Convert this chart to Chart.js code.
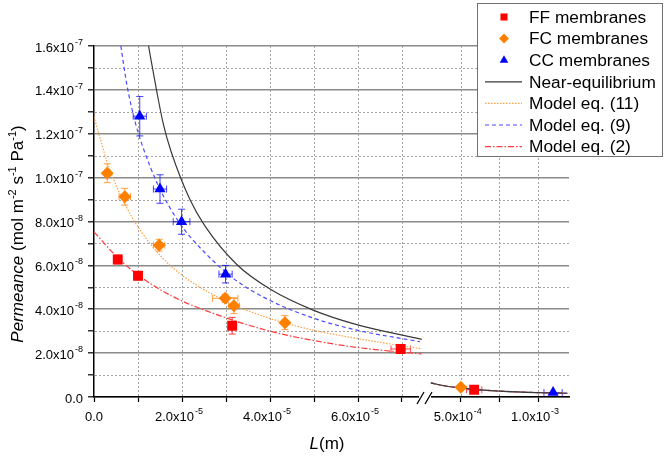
<!DOCTYPE html>
<html>
<head>
<meta charset="utf-8">
<title>Permeance vs L</title>
<script src="https://cdn.jsdelivr.net/npm/chart.js@4.4.1/dist/chart.umd.min.js"></script>
<style>
    html, body { margin: 0; padding: 0; background: #fff; }
    canvas { display: block; }
</style>
</head>
<body>
<canvas id="permChart" width="666" height="456"></canvas>
<script>
// values (L in m, permeance in mol m-2 s-1 Pa-1)

// measured points, thin membranes (left part of the broken axis)
const ffL = [5.4e-6, 1.0e-5, 3.14e-5, 6.97e-5];
const ffP = [6.27e-8, 5.53e-8, 3.25e-8, 2.19e-8];
const ffErrL = [0.5e-6, 0.8e-6, 0.5e-6, 2.2e-6];
const ffErrP = [2.0e-9, 1.9e-9, 3.8e-9, 0.8e-9];

const fcL = [3.0e-6, 7.0e-6, 1.48e-5, 2.98e-5, 3.18e-5, 4.34e-5];
const fcP = [1.02e-7, 9.13e-8, 6.92e-8, 4.5e-8, 4.16e-8, 3.39e-8];
const fcErrL = [0.6e-6, 1.3e-6, 1.3e-6, 2.9e-6, 1.25e-6, 0.6e-6];
const fcErrP = [4.3e-9, 3.8e-9, 2.7e-9, 1.8e-9, 3.6e-9, 3.2e-9];

const ccL = [1.04e-5, 1.5e-5, 1.99e-5, 2.99e-5];
const ccP = [1.28e-7, 9.48e-8, 7.99e-8, 5.6e-8];
const ccErrL = [1.5e-6, 1.5e-6, 1.9e-6, 1.5e-6];
const ccErrP = [9.0e-9, 6.5e-9, 5.7e-9, 4.0e-9];

// measured points, thick membranes (right part)
const ffThickL = [5.86e-4];
const ffThickP = [3.3e-9];
const ffThickErrL = [5.0e-5];
const fcThickL = [5.0e-4];
const fcThickP = [4.4e-9];
const fcThickErrL = [1.5e-5];
const ccThickL = [1.097e-3];
const ccThickP = [2.0e-9];
const ccThickErrL = [5.9e-5];

// model curves, left part
const nearEqL = [1.24e-5, 1.42e-5, 1.58e-5, 1.75e-5, 2.18e-5, 2.52e-5, 3.24e-5, 4.0e-5, 4.98e-5, 5.97e-5, 7.45e-5];
const nearEqP = [1.6e-7, 1.4e-7, 1.24e-7, 1.12e-7, 9.0e-8, 7.8e-8, 6.05e-8, 4.92e-8, 3.96e-8, 3.3e-8, 2.63e-8];

const model11L = [0, 1.8e-6, 3.0e-6, 4.5e-6, 7.0e-6, 1.05e-5, 1.73e-5, 2.94e-5, 4.0e-5, 4.98e-5, 5.97e-5, 7.45e-5];
const model11P = [1.277e-7, 1.15e-7, 1.07e-7, 9.9e-8, 8.8e-8, 7.6e-8, 6.0e-8, 4.42e-8, 3.58e-8, 3.05e-8, 2.67e-8, 2.19e-8];

const model9L = [6.1e-6, 7.5e-6, 9.4e-6, 1.11e-5, 1.47e-5, 1.92e-5, 2.23e-5, 3.17e-5, 4.0e-5, 4.98e-5, 5.97e-5, 7.41e-5];
const model9P = [1.6e-7, 1.42e-7, 1.25e-7, 1.14e-7, 9.6e-8, 8.0e-8, 7.2e-8, 5.4e-8, 4.4e-8, 3.6e-8, 3.05e-8, 2.52e-8];

const model2L = [0, 5.2e-6, 1.0e-5, 1.8e-5, 2.94e-5, 4.0e-5, 4.98e-5, 5.97e-5, 7.45e-5];
const model2P = [7.53e-8, 6.39e-8, 5.56e-8, 4.57e-8, 3.65e-8, 3.0e-8, 2.58e-8, 2.26e-8, 1.96e-8];

// model curves, right part (all four lie on top of each other)
const thickCurveL = [3.06e-4, 4.0e-4, 5.0e-4, 6.0e-4, 7.5e-4, 1.0e-3, 1.19e-3];
const thickCurveP = [6.4e-9, 5.0e-9, 4.1e-9, 3.4e-9, 2.7e-9, 2.0e-9, 1.7e-9];

// ticks
const yTickValues = [0, 2e-8, 4e-8, 6e-8, 8e-8, 1.0e-7, 1.2e-7, 1.4e-7, 1.6e-7];
const yTickLabels = ['0.0', '2.0x10^-8', '4.0x10^-8', '6.0x10^-8', '8.0x10^-8', '1.0x10^-7', '1.2x10^-7', '1.4x10^-7', '1.6x10^-7'];
const yMinorValues = [1e-8, 3e-8, 5e-8, 7e-8, 9e-8, 1.1e-7, 1.3e-7, 1.5e-7];
const xLeftTickValues = [0, 2e-5, 4e-5, 6e-5];
const xLeftTickLabels = ['0.0', '2.0x10^-5', '4.0x10^-5', '6.0x10^-5'];
const xLeftMinorValues = [1e-5, 3e-5, 5e-5, 7e-5];
const xRightTickValues = [5e-4, 1e-3];
const xRightTickLabels = ['5.0x10^-4', '1.0x10^-3'];
const xRightMinorValues = [7.5e-4];

const FONT = '"Liberation Sans", Arial, sans-serif';
const RED = '#ff0000', ORANGE = '#ff8000', BLUE = '#0000ff';

function pts(xs, ys) {
    return xs.map((x, i) => ({ x: x, y: ys[i] }));
}

function markerSet(label, xs, ys, errX, errY, style, color, radius, axis, inLegend) {
    return {
        label: label,
        data: pts(xs, ys),
        xAxisID: axis,
        showLine: false,
        pointStyle: style,
        pointRadius: radius,
        pointHoverRadius: radius,
        backgroundColor: color,
        borderColor: color,
        pointBorderWidth: 0,
        errX: errX,
        errY: errY,
        errColor: color,
        inLegend: inLegend
    };
}

function curveSet(label, xs, ys, color, dash, axis, inLegend) {
    return {
        label: label,
        data: pts(xs, ys),
        xAxisID: axis,
        showLine: true,
        pointRadius: 0,
        pointHoverRadius: 0,
        borderColor: color,
        backgroundColor: color,
        borderWidth: 1.2,
        borderDash: dash,
        cubicInterpolationMode: 'monotone',
        inLegend: inLegend
    };
}

const datasets = [
    markerSet('FF membranes', ffL, ffP, ffErrL, ffErrP, 'rect', RED, 7, 'x', true),
    markerSet('FC membranes', fcL, fcP, fcErrL, fcErrP, 'rectRot', ORANGE, 6.5, 'x', true),
    markerSet('CC membranes', ccL, ccP, ccErrL, ccErrP, 'triangle', BLUE, 6.5, 'x', true),
    curveSet('Near-equilibrium', nearEqL, nearEqP, '#3a3a3a', [], 'x', true),
    curveSet('Model eq. (11)', model11L, model11P, '#ffa040', [1.5, 1.5], 'x', true),
    curveSet('Model eq. (9)', model9L, model9P, '#4a4aff', [4, 3], 'x', true),
    curveSet('Model eq. (2)', model2L, model2P, '#ff3a3a', [6, 2, 1.5, 2], 'x', true),
    markerSet('FF thick', ffThickL, ffThickP, ffThickErrL, [0], 'rect', RED, 7, 'x2', false),
    markerSet('FC thick', fcThickL, fcThickP, fcThickErrL, [0], 'rectRot', ORANGE, 6.5, 'x2', false),
    markerSet('CC thick', ccThickL, ccThickP, ccThickErrL, [0], 'triangle', BLUE, 6.5, 'x2', false),
    curveSet('Near-eq thick', thickCurveL, thickCurveP, '#3a3a3a', [], 'x2', false),
    curveSet('Model 11 thick', thickCurveL, thickCurveP, '#ffa040', [1.5, 1.5], 'x2', false),
    curveSet('Model 9 thick', thickCurveL, thickCurveP, '#4a4aff', [4, 3], 'x2', false),
    curveSet('Model 2 thick', thickCurveL, thickCurveP, '#ff3a3a', [6, 2, 1.5, 2], 'x2', false)
];

// label with superscript exponent, e.g. '2.0x10^-8'
function drawSupLabel(ctx, text, x, y, align, size) {
    const parts = text.split('^');
    const baseFont = size + 'px ' + FONT;
    const supFont = Math.round(size * 0.68) + 'px ' + FONT;
    ctx.font = baseFont;
    const wBase = ctx.measureText(parts[0]).width;
    ctx.font = supFont;
    const wSup = parts[1] ? ctx.measureText(parts[1]).width + 1 : 0;
    const total = wBase + wSup;
    let left = x;
    if (align === 'right') left = x - total;
    if (align === 'center') left = x - total / 2;
    ctx.textAlign = 'left';
    ctx.textBaseline = 'middle';
    ctx.font = baseFont;
    ctx.fillText(parts[0], left, y);
    if (parts[1]) {
        ctx.font = supFont;
        ctx.fillText(parts[1], left + wBase + 1, y - size * 0.42);
    }
}

function isMinor(list, value) {
    return list.some(v => Math.abs(v - value) < 1e-12);
}

// dotted grid lines and error bars, both under the markers
const underlayPlugin = {
    id: 'underlay',
    beforeDatasetsDraw(chart) {
        const ctx = chart.ctx;
        const area = chart.chartArea;
        const ys = chart.scales.y;

        ctx.save();
        ctx.strokeStyle = '#a4a4a4';
        ctx.lineWidth = 1;
        ctx.setLineDash([2, 2]);
        ctx.beginPath();
        yMinorValues.forEach(v => {
            const py = Math.round(ys.getPixelForValue(v)) + 0.5;
            ctx.moveTo(area.left + 1, py);
            ctx.lineTo(area.right, py);
        });
        const vx = [];
        xLeftTickValues.concat(xLeftMinorValues).forEach(v => { if (v > 0) vx.push(chart.scales.x.getPixelForValue(v)); });
        xRightTickValues.concat(xRightMinorValues).forEach(v => vx.push(chart.scales.x2.getPixelForValue(v)));
        vx.forEach(p => {
            const px = Math.round(p) + 0.5;
            ctx.moveTo(px, area.top);
            ctx.lineTo(px, area.bottom - 1);
        });
        ctx.stroke();
        ctx.restore();

        chart.data.datasets.forEach(ds => {
            if (!ds.errX) return;
            const xs = chart.scales[ds.xAxisID];
            ctx.save();
            ctx.strokeStyle = ds.errColor;
            ctx.globalAlpha = 0.75;
            ctx.lineWidth = 1;
            ds.data.forEach((p, i) => {
                const px = xs.getPixelForValue(p.x);
                const py = ys.getPixelForValue(p.y);
                const ex = ds.errX[i] || 0;
                const ey = (ds.errY && ds.errY[i]) || 0;
                ctx.beginPath();
                if (ey) {
                    const y1 = ys.getPixelForValue(p.y - ey);
                    const y2 = ys.getPixelForValue(p.y + ey);
                    ctx.moveTo(px, y1); ctx.lineTo(px, y2);
                    ctx.moveTo(px - 3.5, y1); ctx.lineTo(px + 3.5, y1);
                    ctx.moveTo(px - 3.5, y2); ctx.lineTo(px + 3.5, y2);
                }
                if (ex) {
                    const x1 = xs.getPixelForValue(p.x - ex);
                    const x2 = xs.getPixelForValue(p.x + ex);
                    ctx.moveTo(x1, py); ctx.lineTo(x2, py);
                    ctx.moveTo(x1, py - 3.5); ctx.lineTo(x1, py + 3.5);
                    ctx.moveTo(x2, py - 3.5); ctx.lineTo(x2, py + 3.5);
                }
                ctx.stroke();
            });
            ctx.restore();
        });
    }
};

function drawMarker(ctx, style, x, y, r, color) {
    ctx.fillStyle = color;
    ctx.beginPath();
    if (style === 'rect') {
        const s = r * Math.SQRT1_2;
        ctx.rect(x - s, y - s, 2 * s, 2 * s);
    } else if (style === 'rectRot') {
        ctx.moveTo(x, y - r); ctx.lineTo(x + r, y); ctx.lineTo(x, y + r); ctx.lineTo(x - r, y);
        ctx.closePath();
    } else {
        ctx.moveTo(x, y - r);
        ctx.lineTo(x + r * 0.866, y + r * 0.5);
        ctx.lineTo(x - r * 0.866, y + r * 0.5);
        ctx.closePath();
    }
    ctx.fill();
}

// tick labels, axis titles, axis break and legend
const decorPlugin = {
    id: 'decor',
    afterDraw(chart) {
        const ctx = chart.ctx;
        const area = chart.chartArea;
        const y = chart.scales.y, x = chart.scales.x, x2 = chart.scales.x2;
        ctx.save();
        ctx.fillStyle = '#000';

        yTickValues.forEach((v, i) => drawSupLabel(ctx, yTickLabels[i], 83, y.getPixelForValue(v) + 2, 'right', 13));
        xLeftTickValues.forEach((v, i) => drawSupLabel(ctx, xLeftTickLabels[i], x.getPixelForValue(v) - (i ? 3 : 0), area.bottom + 20, 'center', 13));
        xRightTickValues.forEach((v, i) => drawSupLabel(ctx, xRightTickLabels[i], x2.getPixelForValue(v) - 3, area.bottom + 20, 'center', 13));

        // x title: L(m)
        ctx.textBaseline = 'alphabetic';
        ctx.textAlign = 'left';
        ctx.font = 'italic 17px ' + FONT;
        const wL = ctx.measureText('L').width;
        ctx.font = '17px ' + FONT;
        const wRest = ctx.measureText('(m)').width;
        const tx = 327 - (wL + wRest) / 2;
        ctx.font = 'italic 17px ' + FONT;
        ctx.fillText('L', tx, 449);
        ctx.font = '17px ' + FONT;
        ctx.fillText('(m)', tx + wL, 449);

        // y title: Permeance (mol m-2 s-1 Pa-1)
        const parts = [
            ['Permeance', 'italic 17px', 0],
            [' (mol m', '17px', 0], ['-2', '11px', 1],
            [' s', '17px', 0], ['-1', '11px', 1],
            [' Pa', '17px', 0], ['-1', '11px', 1],
            [')', '17px', 0]
        ];
        let total = 0;
        parts.forEach(p => { ctx.font = p[1] + ' ' + FONT; p.push(ctx.measureText(p[0]).width); total += p[3]; });
        ctx.translate(23, 234);
        ctx.rotate(-Math.PI / 2);
        let pos = -total / 2;
        parts.forEach(p => {
            ctx.font = p[1] + ' ' + FONT;
            ctx.fillText(p[0], pos, p[2] ? -7 : 0);
            pos += p[3];
        });
        ctx.setTransform(1, 0, 0, 1, 0, 0);

        // axis break marks
        const by = area.bottom;
        ctx.fillStyle = '#fff';
        ctx.fillRect(419, by - 3, 12, 6);
        ctx.strokeStyle = '#000';
        ctx.lineWidth = 1.3;
        ctx.beginPath();
        ctx.moveTo(417, by + 7); ctx.lineTo(424, by - 5);
        ctx.moveTo(425, by + 7); ctx.lineTo(432, by - 5);
        ctx.stroke();

        // legend box
        ctx.fillStyle = '#fff';
        ctx.fillRect(477, 3, 186, 154);
        ctx.strokeStyle = '#707070';
        ctx.lineWidth = 1;
        ctx.strokeRect(477.5, 3.5, 185, 153);
        const items = chart.data.datasets.filter(ds => ds.inLegend);
        items.forEach((ds, i) => {
            const ry = 17 + i * 21.6;
            if (ds.showLine) {
                ctx.strokeStyle = ds.borderColor;
                ctx.lineWidth = 1.2;
                ctx.setLineDash(ds.borderDash);
                ctx.beginPath();
                ctx.moveTo(485, ry); ctx.lineTo(522, ry);
                ctx.stroke();
                ctx.setLineDash([]);
            } else {
                drawMarker(ctx, ds.pointStyle, 504, ry, 5, ds.backgroundColor);
            }
            ctx.fillStyle = '#000';
            ctx.font = '17.3px ' + FONT;
            ctx.textAlign = 'left';
            ctx.textBaseline = 'middle';
            ctx.fillText(ds.label, 529, ry + 1);
        });
        ctx.restore();
    }
};

function xScale(min, max, weight, major, minor) {
    return {
        type: 'linear',
        position: 'bottom',
        stack: 'L',
        stackWeight: weight,
        min: min,
        max: max,
        afterBuildTicks: s => { s.ticks = major.concat(minor).sort((a, b) => a - b).map(v => ({ value: v })); },
        afterFit: s => { s.height = 59; },
        ticks: { display: false, autoSkip: false },
        grid: {
            drawOnChartArea: false,
            drawTicks: true,
            tickLength: 5,
            tickColor: '#000',
            tickWidth: 1.2
        },
        border: { display: true, color: '#000', width: 1.5 }
    };
}

new Chart(document.getElementById('permChart'), {
    type: 'scatter',
    data: { datasets: datasets },
    options: {
        responsive: false,
        animation: false,
        events: [],
        layout: { padding: { left: 0, right: 97, top: 46, bottom: 0 } },
        plugins: { legend: { display: false }, tooltip: { enabled: false } },
        scales: {
            x: xScale(0, 7.6e-5, 334.4, xLeftTickValues, xLeftMinorValues),
            x2: xScale(2.9e-4, 1.2e-3, 140.6, xRightTickValues, xRightMinorValues),
            y: {
                type: 'linear',
                position: 'left',
                min: 0,
                max: 1.6e-7,
                afterBuildTicks: s => { s.ticks = yTickValues.concat(yMinorValues).sort((a, b) => a - b).map(v => ({ value: v })); },
                afterFit: s => { s.width = 94; },
                ticks: { display: false, autoSkip: false },
                grid: {
                    // minor lines are dotted and drawn by the underlay plugin
                    color: ctx => ctx.tick && isMinor(yMinorValues, ctx.tick.value) ? 'rgba(0,0,0,0)' : '#8a8a8a',
                    lineWidth: 1.6,
                    drawTicks: true,
                    tickLength: 6,
                    tickColor: '#000',
                    tickWidth: 1.2
                },
                border: { display: true, color: '#000', width: 1.5 }
            }
        }
    },
    plugins: [underlayPlugin, decorPlugin]
});
</script>
</body>
</html>
